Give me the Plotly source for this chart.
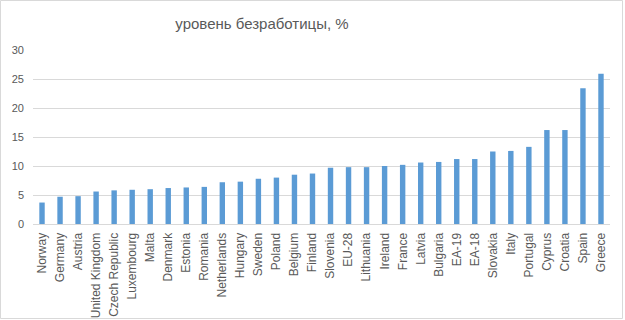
import plotly.graph_objects as go

countries = ["Norway", "Germany", "Austria", "United Kingdom", "Czech Republic", "Luxembourg",
             "Malta", "Denmark", "Estonia", "Romania", "Netherlands", "Hungary", "Sweden",
             "Poland", "Belgium", "Finland", "Slovenia", "EU-28", "Lithuania", "Ireland",
             "France", "Latvia", "Bulgaria", "EA-19", "EA-18", "Slovakia", "Italy",
             "Portugal", "Cyprus", "Croatia", "Spain", "Greece"]
unemployment = [3.7, 4.7, 4.8, 5.6, 5.8, 5.9, 6.0, 6.2, 6.3, 6.4, 7.2, 7.3, 7.8,
                8.0, 8.5, 8.7, 9.7, 9.8, 9.8, 10.0, 10.2, 10.6, 10.7, 11.2, 11.2,
                12.5, 12.6, 13.3, 16.2, 16.2, 23.4, 25.9]
title_text = "уровень безработицы, %"

W, H = 625, 320
L, R, T, B = 33, 15, 50, 96
pw, ph = W - L - R, H - T - B
FONT = "Liberation Sans, Arial, sans-serif"

fig = go.Figure(go.Bar(x=countries, y=unemployment, marker_color="#5B9BD5",
                       marker_line_width=0, width=0.3))

def px_x(p):
    return (p - L) / pw

def px_y(p):
    return (H - B - p) / ph

fig.update_layout(
    width=W, height=H,
    margin=dict(l=L, r=R, t=T, b=B),
    paper_bgcolor="white", plot_bgcolor="white",
    font=dict(family=FONT, color="#595959", size=11),
    title=dict(text=title_text, x=262 / W, xanchor="center", xref="container",
               y=1 - 24 / H, yref="container", yanchor="middle",
               font=dict(size=15, color="#595959")),
    showlegend=False,
    shapes=[dict(type="rect", xref="paper", yref="paper",
                 x0=px_x(0.5), x1=px_x(622.5), y0=px_y(318.5), y1=px_y(0.5),
                 line=dict(color="#D9D9D9", width=1), fillcolor="rgba(0,0,0,0)",
                 layer="below")],
)
fig.update_xaxes(tickangle=-90, showgrid=False, showline=True, linecolor="#D9D9D9",
                 ticks="", tickfont=dict(size=12, color="#595959"), automargin=False,
                 ticklabelstandoff=3)
fig.update_yaxes(range=[0, 30], dtick=5, showgrid=True, gridcolor="#D9D9D9",
                 zeroline=False, showline=False, ticks="", automargin=False,
                 tickfont=dict(size=11, color="#595959"), ticklabelstandoff=8)

fig.write_html("out.html", config={"displayModeBar": False},
               post_script="document.body.style.margin='0';document.body.style.padding='0';")
